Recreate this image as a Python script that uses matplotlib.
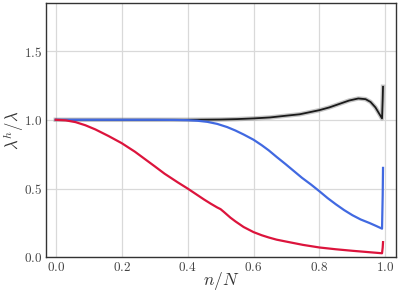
import numpy as np
import matplotlib
matplotlib.use("Agg")
import matplotlib.pyplot as plt

plt.rcParams['mathtext.fontset'] = 'cm'
plt.rcParams['font.family'] = 'serif'
plt.rcParams['font.serif'] = ['DejaVu Serif']

# data
x_red = [0.0, 0.03, 0.06, 0.09, 0.12, 0.16, 0.2, 0.24, 0.27, 0.3, 0.33, 0.37, 0.4,
         0.43, 0.45, 0.47, 0.49, 0.5, 0.51, 0.53, 0.545, 0.57, 0.6, 0.625, 0.646,
         0.67, 0.697, 0.75, 0.8, 0.85, 0.9, 0.95, 0.99, 0.992, 0.993]
red = [1.0, 0.996, 0.983, 0.96, 0.93, 0.882, 0.83, 0.768, 0.715, 0.662, 0.608, 0.545, 0.5,
       0.452, 0.42, 0.39, 0.362, 0.35, 0.33, 0.288, 0.261, 0.22, 0.183, 0.16, 0.144,
       0.128, 0.115, 0.09, 0.071, 0.058, 0.047, 0.037, 0.029, 0.07, 0.11]

x_blue = [0.0, 0.1, 0.2, 0.3, 0.36, 0.4, 0.43, 0.46, 0.49, 0.52, 0.545, 0.57, 0.6,
          0.625, 0.646, 0.67, 0.697, 0.72, 0.747, 0.775, 0.8, 0.825, 0.85, 0.875,
          0.9, 0.925, 0.952, 0.97, 0.99, 0.992, 0.993]
blue = [1.0, 1.0, 1.0, 1.0, 0.999, 0.997, 0.993, 0.985, 0.97, 0.947, 0.922, 0.893, 0.855,
        0.815, 0.778, 0.73, 0.678, 0.632, 0.578, 0.528, 0.48, 0.43, 0.385, 0.343,
        0.306, 0.275, 0.249, 0.23, 0.208, 0.45, 0.65]

x_black = [0.0, 0.1, 0.2, 0.3, 0.4, 0.5, 0.55, 0.6, 0.65, 0.7, 0.74, 0.77, 0.8, 0.83,
           0.86, 0.89, 0.918, 0.94, 0.955, 0.97, 0.98, 0.99, 0.992, 0.993]
black = [1.0, 1.0, 1.0, 1.0, 1.0, 1.002, 1.005, 1.01, 1.017, 1.03, 1.04, 1.055, 1.07,
         1.09, 1.115, 1.14, 1.155, 1.15, 1.13, 1.09, 1.05, 1.01, 1.15, 1.24]

fig, ax = plt.subplots(figsize=(3.99, 2.94), dpi=100)

ax.plot(x_black, black, color='gray', lw=3.2, alpha=0.45, zorder=2)
ax.plot(x_black, black, color='#1a1a1a', lw=1.3, zorder=3)
ax.plot(x_blue, blue, color='#4169E1', lw=1.6, zorder=4)
ax.plot(x_red, red, color='#DC143C', lw=1.6, zorder=5)

ax.set_xlim(-0.03, 1.033)
ax.set_ylim(0, 1.85)
ax.set_xticks([0.0, 0.2, 0.4, 0.6, 0.8, 1.0])
ax.set_yticks([0.0, 0.5, 1.0, 1.5])
ax.set_xticklabels([r'$%.1f$' % v for v in ax.get_xticks()])
ax.set_yticklabels([r'$%.1f$' % v for v in ax.get_yticks()])
ax.tick_params(length=0, labelsize=9.5, colors='#444444', pad=2.5)
ax.grid(True, color='#d9d9d9', lw=0.9)
ax.set_axisbelow(True)
for s in ax.spines.values():
    s.set_color('#333333')
    s.set_linewidth(1.0)

ax.set_xlabel(r'$n/N$', fontsize=12.5, color='#333333', va='center')
ax.set_ylabel(r'$\lambda^h/\lambda$', fontsize=12, color='#333333', va='center')
ax.xaxis.set_label_coords(0.5, -0.092)
ax.yaxis.set_label_coords(-0.093, 0.5)

fig.subplots_adjust(left=0.115, right=0.993, top=0.99, bottom=0.125)
fig.savefig('out.png', dpi=100)
